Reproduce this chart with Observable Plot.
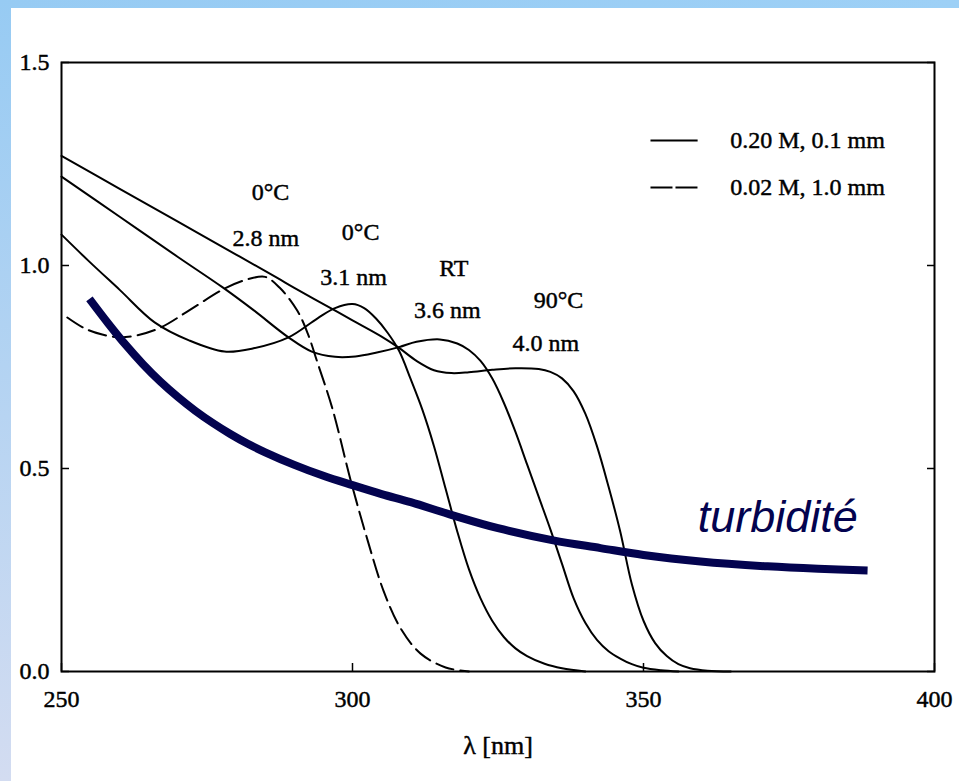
<!DOCTYPE html>
<html>
<head>
<meta charset="utf-8">
<script src="https://cdn.jsdelivr.net/npm/d3@7"></script>
<script src="https://cdn.jsdelivr.net/npm/@observablehq/plot@0.6"></script>
<style>
  html, body { margin: 0; padding: 0; background: #fff; }
  #page { position: relative; width: 959px; height: 781px; overflow: hidden; background: #fff; }
  #topband { position: absolute; left: 0; top: 0; width: 959px; height: 8px; background: linear-gradient(to right, #97cbf3, #9dd0f6); }
  #leftband { position: absolute; left: 0; top: 0; width: 11px; height: 781px; background: linear-gradient(to bottom, #97cbf3, #d3dcf1); }
  #chart { position: absolute; left: 0; top: 0; }
</style>
</head>
<body>
<div id="page">
  <div id="topband"></div>
  <div id="leftband"></div>
  <div id="chart"></div>
</div>
<script>
// ---------- Data ----------
const xTicks = [250, 300, 350, 400];
const yTicks = [0.0, 0.5, 1.0, 1.5];

// 90°C, 4.0 nm (solid)
const lambda90C = [250, 260, 270, 280, 287, 290, 295, 300, 305, 308, 311, 314, 317, 320, 324, 328, 332, 334, 336, 338, 340, 342, 344, 346, 348, 350, 352, 354, 356, 358, 361, 365];
const abs90C    = [1.27, 1.189, 1.108, 1.027, 0.97, 0.945, 0.905, 0.865, 0.825, 0.797, 0.765, 0.742, 0.735, 0.737, 0.743, 0.747, 0.745, 0.738, 0.722, 0.69, 0.635, 0.555, 0.455, 0.345, 0.215, 0.125, 0.07, 0.038, 0.018, 0.008, 0.002, 0];

// RT, 3.6 nm (solid)
const lambdaRT = [250, 260, 270, 277.7, 283, 289, 293, 297, 300.5, 304, 308, 311, 315, 318, 320, 322, 324, 326, 328, 330, 332, 334, 336, 338, 340, 342, 344, 346, 348, 350, 353, 356];
const absRT    = [1.219, 1.12, 1.021, 0.946, 0.89, 0.823, 0.788, 0.775, 0.776, 0.785, 0.799, 0.812, 0.818, 0.808, 0.792, 0.765, 0.722, 0.662, 0.59, 0.51, 0.43, 0.35, 0.265, 0.18, 0.12, 0.078, 0.05, 0.032, 0.018, 0.009, 0.003, 0];

// 0°C, 3.1 nm (solid)
const lambda0C31 = [250, 254.6, 260, 266, 272, 278, 283, 289, 294, 297, 300, 302, 304, 306, 308, 310, 312, 314, 316, 318, 320, 322, 324, 326, 328, 330, 333, 336, 340];
const abs0C31    = [1.076, 1.012, 0.94, 0.86, 0.815, 0.788, 0.796, 0.823, 0.87, 0.895, 0.905, 0.895, 0.87, 0.835, 0.79, 0.72, 0.645, 0.555, 0.45, 0.345, 0.252, 0.18, 0.125, 0.085, 0.057, 0.038, 0.019, 0.008, 0];

// 0°C, 2.8 nm (dashed: 0.02 M, 1.0 mm)
const lambda0C28 = [251, 254, 257, 260, 263, 267, 272, 278, 282, 285, 287.5, 290.5, 292.3, 294, 296.5, 299.7, 302.6, 305.3, 308.2, 311.7, 316, 320];
const abs0C28    = [0.872, 0.845, 0.83, 0.823, 0.828, 0.847, 0.89, 0.943, 0.966, 0.972, 0.945, 0.889, 0.833, 0.76, 0.65, 0.47, 0.323, 0.2, 0.108, 0.044, 0.01, 0];

// turbidité (thick navy curve)
const lambdaTurb = [254.8, 258, 261, 264, 267, 270, 273, 276, 279, 282, 285, 290, 295, 300, 305, 310, 317.4, 325, 334.5, 342.6, 350, 359.8, 371.3, 380, 388.5];
const absTurb    = [0.918, 0.858, 0.805, 0.757, 0.714, 0.676, 0.642, 0.612, 0.585, 0.561, 0.54, 0.509, 0.482, 0.459, 0.437, 0.417, 0.384, 0.353, 0.323, 0.304, 0.287, 0.271, 0.259, 0.253, 0.249];

// Curve annotations (text, anchor in data units)
const annotText   = ["0°C", "2.8 nm", "0°C", "3.1 nm", "RT", "3.6 nm", "90°C", "4.0 nm"];
const annotLambda = [285.9, 285.1, 301.4, 300.2, 317.4, 316.3, 335.4, 333.2];
const annotAbs    = [1.18, 1.066, 1.081, 0.970, 0.993, 0.889, 0.914, 0.808];

// Legend
const legendLabels = ["0.20 M, 0.1 mm", "0.02 M, 1.0 mm"];
const legendAbs    = [1.308, 1.192];
const legendLine   = [351.2, 359.3];
const legendTextX  = 364.9;

const turbLabel = "turbidité";
const turbLabelPos = [359.3, 0.379];
const xLabel = "λ [nm]";

// ---------- Build tables ----------
const mk = (name, xs, ys) => xs.map((x, i) => ({series: name, lambda: x, a: ys[i]}));
const solid = [
  ...mk("90°C", lambda90C, abs90C),
  ...mk("RT", lambdaRT, absRT),
  ...mk("0°C 3.1", lambda0C31, abs0C31)
];
const dashed = mk("0°C 2.8", lambda0C28, abs0C28);
const turb = mk("turbidité", lambdaTurb, absTurb);
const annots = annotText.map((t, i) => ({t, x: annotLambda[i], y: annotAbs[i]}));
const legend = legendLabels.map((l, i) => ({label: l, y: legendAbs[i]}));

const serif = "'Liberation Serif', 'Times New Roman', serif";
const navy = "#03034f";
const ink = {fill: "black", stroke: "black", strokeWidth: 0.45, fontFamily: serif};

const chart = Plot.plot({
  width: 959,
  height: 781,
  marginLeft: 61,
  marginRight: 25,
  marginTop: 62,
  marginBottom: 110,
  x: {domain: [250, 400], axis: null},
  y: {domain: [0, 1.5], axis: null},
  style: {background: "transparent", fontFamily: serif, fontSize: "24px", color: "#000", overflow: "visible"},
  marks: [
    // inward ticks
    Plot.axisX(xTicks, {anchor: "bottom", tickSize: -8, fill: "none", label: null, strokeWidth: 1.5}),
    Plot.axisY(yTicks, {anchor: "left", tickSize: -8, fill: "none", label: null, strokeWidth: 1.5}),
    Plot.axisY(yTicks, {anchor: "right", tickSize: -8, fill: "none", label: null, strokeWidth: 1.5}),
    // tick labels
    Plot.axisX(xTicks, {anchor: "bottom", tickSize: 0, tickPadding: 18, label: null, tickFormat: d3.format("d"), fontSize: 24, fontFamily: serif, textStroke: "black", textStrokeWidth: 0.45}),
    Plot.axisY(yTicks, {anchor: "left", tickSize: 0, tickPadding: 12, label: null, tickFormat: d3.format(".1f"), fontSize: 24, fontFamily: serif, textStroke: "black", textStrokeWidth: 0.45}),
    // frame
    Plot.frame({stroke: "black", strokeWidth: 2}),
    // curves
    Plot.line(solid, {x: "lambda", y: "a", z: "series", stroke: "black", strokeWidth: 2, curve: "catmull-rom"}),
    Plot.line(dashed, {x: "lambda", y: "a", stroke: "black", strokeWidth: 2, strokeDasharray: "18,7", curve: "catmull-rom"}),
    Plot.line(turb, {x: "lambda", y: "a", stroke: navy, strokeWidth: 8, strokeLinecap: "butt", curve: "catmull-rom"}),
    // annotations
    Plot.text(annots, {x: "x", y: "y", text: "t", fontSize: 24, ...ink}),
    // legend
    Plot.link(legend.slice(0, 1), {x1: legendLine[0], x2: legendLine[1], y1: "y", y2: "y", stroke: "black", strokeWidth: 2}),
    Plot.link(legend.slice(1), {x1: legendLine[0], x2: legendLine[1], y1: "y", y2: "y", stroke: "black", strokeWidth: 2, strokeDasharray: "22,3"}),
    Plot.text(legend, {x: legendTextX, y: "y", text: "label", textAnchor: "start", fontSize: 24, ...ink, ariaLabel: "legendtext"}),
    // turbidité label
    Plot.text([turbLabel], {x: turbLabelPos[0], y: turbLabelPos[1], text: d => d, textAnchor: "start", fontSize: 45, fontStyle: "italic", fontFamily: "'Liberation Sans', Arial, sans-serif", fill: navy}),
    // x axis title
    Plot.text([xLabel], {frameAnchor: "bottom", dy: 82, text: d => d, fontSize: 26, ...ink})
  ]
});

d3.select(chart).selectAll('g[aria-label="legendtext"] text').style("letter-spacing", "0.9px");
document.getElementById("chart").appendChild(chart);
</script>
</body>
</html>
